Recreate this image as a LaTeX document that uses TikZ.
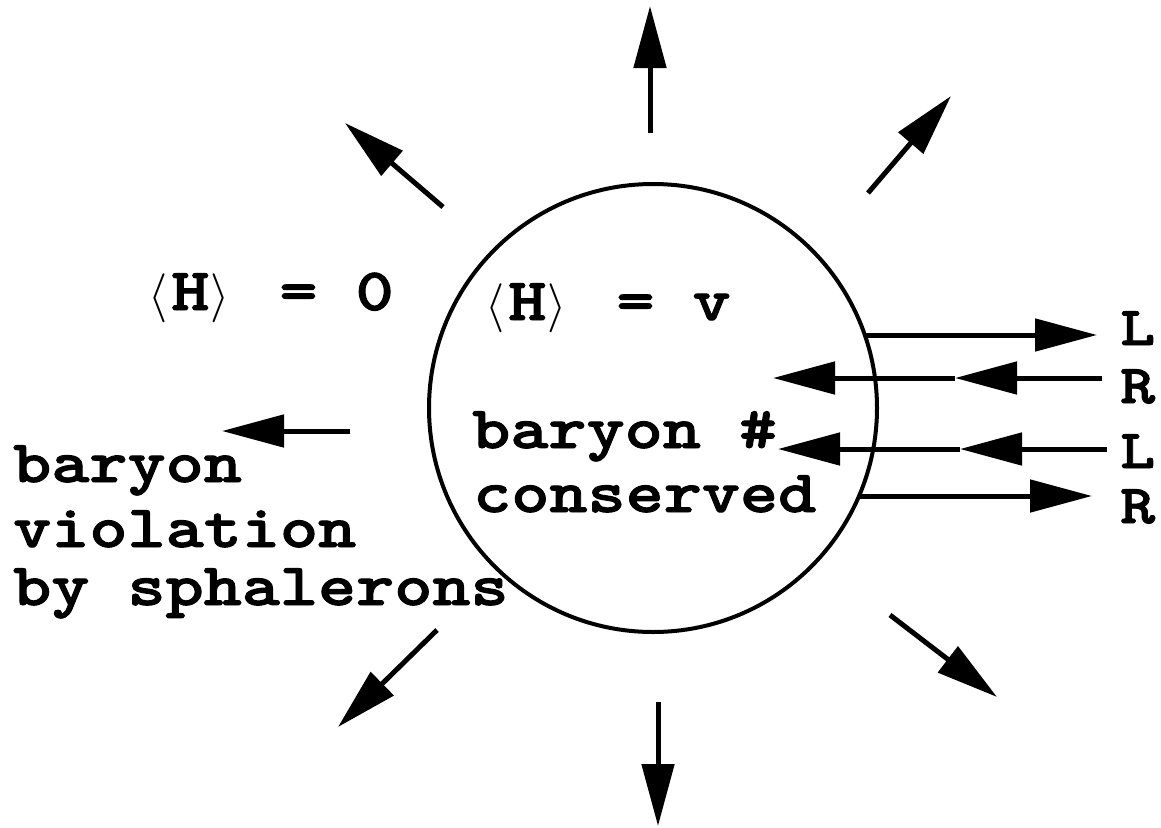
\documentclass[tikz,border=0pt]{standalone}
\usepackage{fontspec}
\newfontfamily\courb{lmmonolt10-bold.otf}[FakeStretch=1.21,FakeBold=1.6]
\newfontfamily\lmmath{latinmodern-math.otf}
\usetikzlibrary{arrows.meta}
\newcommand{\bigtxt}{\courb\fontsize{60pt}{64pt}\selectfont}
\newcommand{\lrtxt}{\courb\fontsize{55pt}{58pt}\selectfont}
\newcommand{\lbr}{{\lmmath\fontsize{49pt}{49pt}\selectfont ⟨}}
\newcommand{\rbr}{{\lmmath\fontsize{49pt}{49pt}\selectfont ⟩}}
\begin{document}
\begin{tikzpicture}[x=1pt,y=-1pt,
  arr/.style={line width=5pt,-{Triangle[length=62pt,width=32pt]}},
  txt/.style={anchor=base west,inner sep=0pt,font=\bigtxt},
  lr/.style={anchor=base west,inner sep=0pt,font=\lrtxt},
  ball/.style={circle,draw,line width=4pt,minimum size=448pt,inner sep=0pt}]
\useasboundingbox (0,0) rectangle (1161,827);
\node[ball] (bubble) at (653,408) {};
% radial arrows
\coordinate (us) at (650,133); \coordinate (ue) at (650,6);
\coordinate (uls) at (443,207); \coordinate (ule) at (345,123);
\coordinate (urs) at (868,193); \coordinate (ure) at (951,96);
\coordinate (ls) at (350,431); \coordinate (le) at (222,431);
\coordinate (dls) at (437,630); \coordinate (dle) at (338,727);
\coordinate (ds) at (658,702); \coordinate (de) at (658,826);
\coordinate (drs) at (890,615); \coordinate (dre) at (997,697);
\draw[arr] (us) -- (ue);
\draw[arr] (uls) -- (ule);
\draw[arr] (urs) -- (ure);
\draw[arr] (ls) -- (le);
\draw[arr] (dls) -- (dle);
\draw[arr] (ds) -- (de);
\draw[arr] (drs) -- (dre);
% chiral arrows
\coordinate (a1s) at (866,335); \coordinate (a1e) at (1097,335);
\coordinate (a2s) at (1102,378); \coordinate (a2m) at (955,378); \coordinate (a2e) at (773,378);
\coordinate (a3s) at (1107,449); \coordinate (a3m) at (960,449); \coordinate (a3e) at (778,449);
\coordinate (a4s) at (860,496); \coordinate (a4e) at (1092,496);
\draw[arr] (a1s) -- (a1e);
\draw[arr] (a2s) -- (a2m);
\draw[arr] (a2m) -- (a2e);
\draw[arr] (a3s) -- (a3m);
\draw[arr] (a3m) -- (a3e);
\draw[arr] (a4s) -- (a4e);
\node[lr] (l1) at (1120,345) {L};
\node[lr] (r1) at (1120,403) {R};
\node[lr] (l2) at (1120,468) {L};
\node[lr] (r2) at (1120,523) {R};
% labels
\node[txt] (hout) at (148,310) {\lbr\hspace{4pt}H\hspace{1pt}\rbr\hspace{50pt}= 0};
\node[txt] (hin) at (485,320) {\lbr\hspace{4pt}H\hspace{1pt}\rbr\hspace{50pt}= v};
\node[txt] (bc1) at (472,448) {baryon \#};
\node[txt] (bc2) at (473,512) {conserved};
\node[txt] (bv1) at (13,482) {baryon};
\node[txt] (bv2) at (13,547) {violation};
\node[txt] (bv3) at (13,605) {by sphalerons};
\end{tikzpicture}
\end{document}
